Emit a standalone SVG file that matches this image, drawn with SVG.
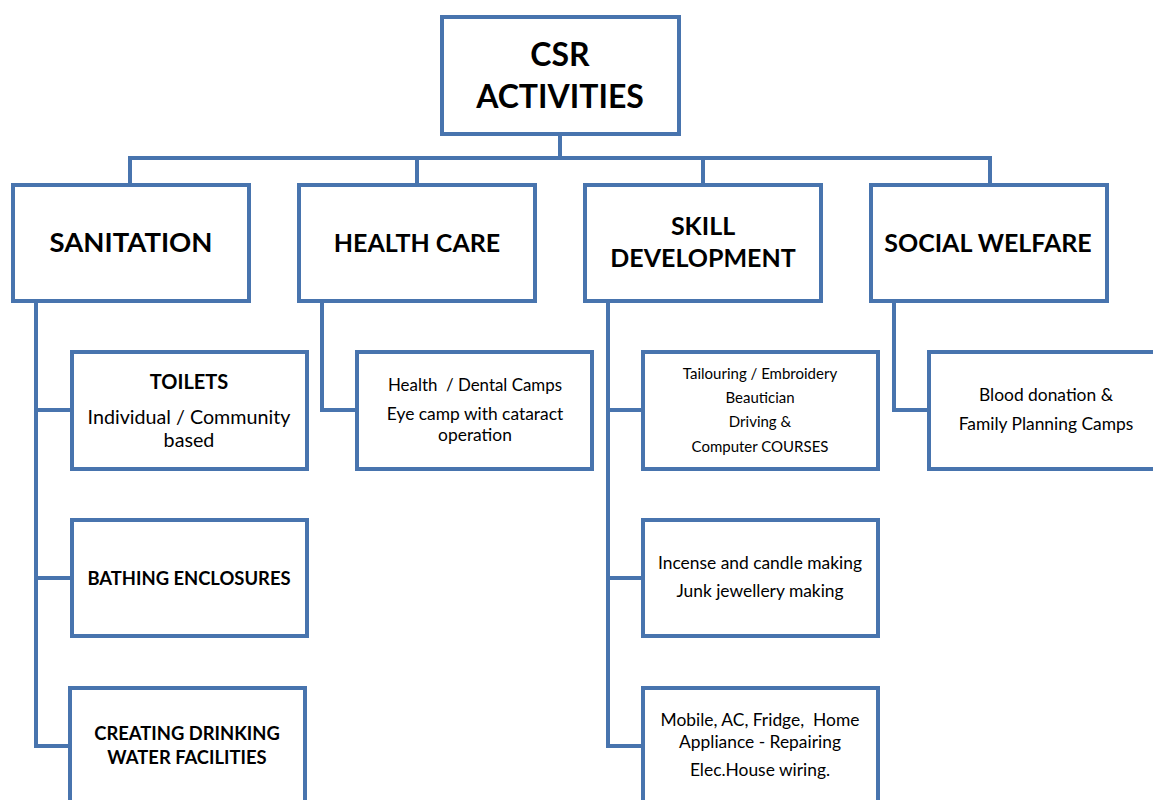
<svg xmlns="http://www.w3.org/2000/svg" width="1153" height="800" viewBox="0 0 1153 800">
<style>
.box{fill:#fff;stroke:#4874ae;stroke-width:4}
.ln{fill:none;stroke:#4874ae;stroke-width:4;stroke-linejoin:miter}
text{font-family:Lato,"Open Sans","Liberation Sans",sans-serif;fill:#000;text-anchor:middle;white-space:pre}
.t1{font-size:32px;font-weight:bold}
.t2{font-size:25px;font-weight:bold}
.t2l{font-size:27.5px;font-weight:bold}
.b{font-size:18.4px;font-weight:bold}
.bl{font-size:20px;font-weight:bold}
.r{font-size:19.7px}
.s{font-size:17.4px}
.xs{font-size:15px}
</style>
<rect width="1153" height="800" fill="#fff"/>
<g id="connectors">
<path class="ln" d="M560 134V158M130 185V158H990V185M417 158V185M703 158V185"/>
<path class="ln" d="M36 301V746H70M36 410H70M36 578H70"/>
<path class="ln" d="M322 301V410H356"/>
<path class="ln" d="M608 301V746H641M608 410H641M608 578H641"/>
<path class="ln" d="M894 301V410H928"/>
</g>
<g id="csr"><rect class="box" x="442" y="17" width="237" height="117"/><text class="t1" x="560" y="66">CSR</text><text class="t1" x="560" y="108">ACTIVITIES</text></g>
<g id="sanitation"><rect class="box" x="13" y="185" width="236" height="116"/><text class="t2l" x="131" y="252">SANITATION</text></g>
<g id="healthcare"><rect class="box" x="299" y="185" width="236" height="116"/><text class="t2" x="417" y="252">HEALTH CARE</text></g>
<g id="skill"><rect class="box" x="585" y="185" width="236" height="116"/><text class="t2" x="703" y="235">SKILL</text><text class="t2" x="703" y="267">DEVELOPMENT</text></g>
<g id="social"><rect class="box" x="871" y="185" width="236" height="116"/><text class="t2" x="988" y="252">SOCIAL WELFARE</text></g>
<g id="toilets"><rect class="box" x="72" y="352" width="235" height="117"/><text class="bl" x="189" y="389">TOILETS</text><text class="r" x="189" y="424">Individual / Community</text><text class="r" x="189" y="447">based</text></g>
<g id="bathing"><rect class="box" x="72" y="520" width="235" height="116"/><text class="b" x="189" y="585">BATHING ENCLOSURES</text></g>
<g id="drinking"><rect class="box" x="70" y="688" width="235" height="130"/><text class="b" x="187" y="740">CREATING DRINKING</text><text class="b" x="187" y="764">WATER FACILITIES</text></g>
<g id="healthcamps"><rect class="box" x="357" y="352" width="235" height="117"/><text class="s" x="475" y="391" style="font-size:16.9px">Health  / Dental Camps</text><text class="s" x="475" y="420">Eye camp with cataract</text><text class="s" x="475" y="441">operation</text></g>
<g id="tailouring"><rect class="box" x="643" y="352" width="235" height="117"/><text class="xs" x="760" y="379">Tailouring / Embroidery</text><text class="xs" x="760" y="403">Beautician</text><text class="xs" x="760" y="427">Driving &amp;</text><text class="xs" x="760" y="452">Computer COURSES</text></g>
<g id="incense"><rect class="box" x="643" y="520" width="235" height="116"/><text class="s" x="760" y="569">Incense and candle making</text><text class="s" x="760" y="597">Junk jewellery making</text></g>
<g id="mobile"><rect class="box" x="643" y="688" width="235" height="130"/><text class="s" x="760" y="726">Mobile, AC, Fridge,  Home</text><text class="s" x="760" y="748">Appliance - Repairing</text><text class="s" x="760" y="776">Elec.House wiring.</text></g>
<g id="blood"><rect class="box" x="929" y="352" width="236" height="117"/><text class="s" x="1046" y="401">Blood donation &amp;</text><text class="s" x="1046" y="430">Family Planning Camps</text></g>
</svg>
